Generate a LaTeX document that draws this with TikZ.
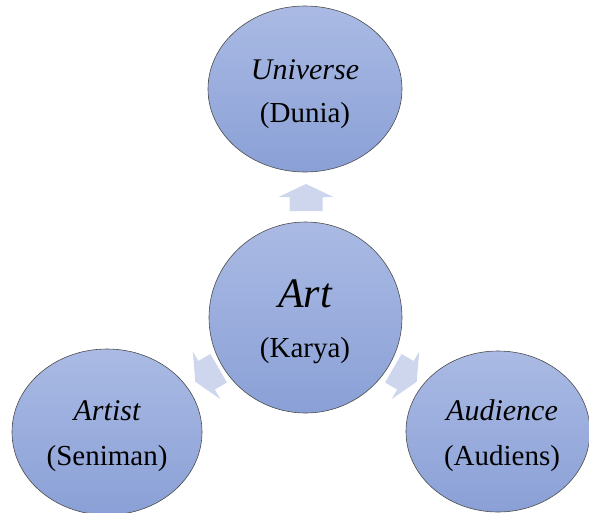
\documentclass[tikz,border=0pt]{standalone}
\usepackage{fontspec}
\setmainfont{Liberation Serif}
\usetikzlibrary{shapes.geometric}

\definecolor{circtop}{RGB}{170,186,228}
\definecolor{circbot}{RGB}{138,160,214}
\definecolor{arrowfill}{RGB}{206,214,238}

\tikzset{blockarrow/.pic={
  \fill[arrowfill] (-16.5,-13.5) -- (-16.5,0.5) -- (-27.5,0.5) -- (0,13.5)
        -- (27.5,0.5) -- (16.5,0.5) -- (16.5,-13.5) -- cycle;}}

\begin{document}
\begin{tikzpicture}[x=1pt,y=1pt,
  circ/.style={ellipse,draw=black!70,line width=0.6pt,inner sep=0pt,
               top color=circtop,bottom color=circbot},
  word/.style={anchor=base,font=\fontsize{30}{30}\selectfont\itshape},
  gloss/.style={anchor=base,font=\fontsize{29}{29}\selectfont}]
\useasboundingbox (0,0) rectangle (589,-512);
% arrows
\pic at (306,-197.5) {blockarrow};
\pic[rotate=120] at (207,-375) {blockarrow};
\pic[rotate=-120] at (405,-375) {blockarrow};
% circles
\node[circ,minimum width=194pt,minimum height=166pt] (universe) at (305,-89) {};
\node[circ,minimum width=193pt,minimum height=191pt] (art) at (305.5,-317.5) {};
\node[circ,minimum width=190pt,minimum height=166pt] (artist) at (107,-432) {};
\node[circ,minimum width=184pt,minimum height=161pt] (audience) at (498,-431.5) {};
% labels
\node[word] (universeEn) at (305,-79) {Universe};
\node[gloss] (universeId) at (305,-122) {(Dunia)};
\node[word,font=\fontsize{42}{42}\selectfont\itshape] (artEn) at (305,-307) {Art};
\node[gloss] (artId) at (305,-357) {(Karya)};
\node[word] (artistEn) at (107,-420) {Artist};
\node[gloss] (artistId) at (107,-465) {(Seniman)};
\node[word] (audienceEn) at (502,-420) {Audience};
\node[gloss] (audienceId) at (502,-465) {(Audiens)};
\end{tikzpicture}
\end{document}
